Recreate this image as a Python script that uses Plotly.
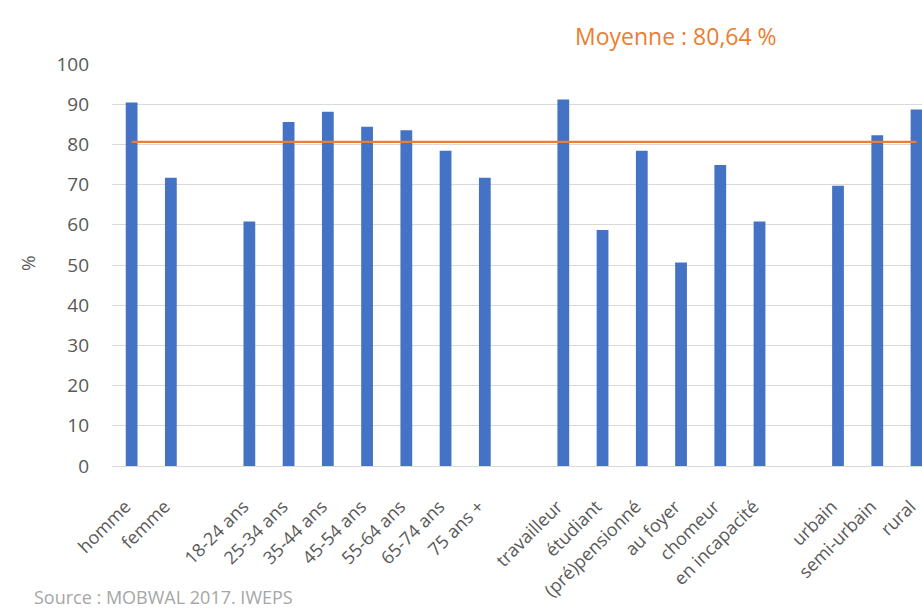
import plotly.graph_objects as go

categories = ["homme", "femme", " ",
              "18-24 ans", "25-34 ans", "35-44 ans", "45-54 ans", "55-64 ans", "65-74 ans", "75 ans +",
              "  ",
              "travailleur", "étudiant", "(pré)pensionné", "au foyer", "chomeur", "en incapacité",
              "   ",
              "urbain", "semi-urbain", "rural"]
values = [90.4, 71.7, None,
          60.8, 85.6, 88.1, 84.4, 83.5, 78.4, 71.7,
          None,
          91.2, 58.7, 78.4, 50.6, 74.9, 60.8,
          None,
          69.7, 82.3, 88.7]
moyenne = 80.64
y_ticks = [0, 10, 20, 30, 40, 50, 60, 70, 80, 90, 100]

FONT = "Open Sans"
GRAY = "#595959"

W, H = 922, 611
L, R, T, B = 112, 0, 64, 145
PW, PH = W - L - R, H - T - B


def px(x, y):
    return (x - L) / PW, 1 - (y - T) / PH


fig = go.Figure()
fig.add_trace(go.Bar(x=categories, y=values, marker_color="#4472C4",
                     marker_line_width=0, showlegend=False))
fig.add_trace(go.Scatter(x=categories, y=[moyenne] * len(categories), mode="lines",
                         line=dict(color="#ED7D31", width=2.2), showlegend=False))

mx, my = px(676, 36)
gx, gy = px(28, 263)
sx, sy = px(32, 597)

fig.update_layout(
    width=W, height=H,
    margin=dict(l=L, r=R, t=T, b=B, autoexpand=False),
    paper_bgcolor="white", plot_bgcolor="white",
    bargap=0.7,
    font=dict(family=FONT, color=GRAY),
    xaxis=dict(type="category", categoryorder="array", categoryarray=categories,
               range=[-0.5, 20.14], tickangle=-45, tickfont=dict(size=18, color=GRAY),
               showgrid=False, showline=True, linecolor="#d9d9d9", linewidth=1,
               ticks="", ticklabelstandoff=22, ticklabelshift=-6, automargin=False),
    yaxis=dict(range=[0, 100], tickvals=y_ticks, tickfont=dict(size=19, color=GRAY),
               showgrid=True, gridcolor="#d9d9d9", gridwidth=1, zeroline=False,
               showline=False, ticks="", ticklabelstandoff=22, automargin=False),
    annotations=[
        dict(text="Moyenne : 80,64 %", x=mx, y=my, xref="paper", yref="paper",
             xanchor="center", yanchor="middle", showarrow=False,
             font=dict(size=23, color="#ED7D31", family=FONT)),
        dict(text="%", x=gx, y=gy, xref="paper", yref="paper", textangle=-90,
             xanchor="center", yanchor="middle", showarrow=False,
             font=dict(size=19, color=GRAY, family=FONT)),
        dict(text="Source : MOBWAL 2017. IWEPS", x=sx, y=sy, xref="paper", yref="paper",
             xanchor="left", yanchor="middle", showarrow=False,
             font=dict(size=18, color="#a6a6a6", family=FONT)),
    ],
)

fig.write_html("out.html")
